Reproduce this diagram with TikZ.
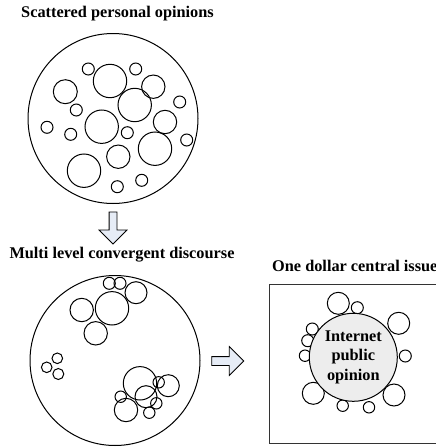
\documentclass[tikz,border=0pt]{standalone}
\usepackage{fontspec}
\setmainfont{Liberation Serif}
\usepackage{xcolor}
\usetikzlibrary{shapes.arrows,positioning}
\definecolor{arrowfill}{HTML}{E6ECF6}

\begin{document}
\begin{tikzpicture}[x=1pt,y=1pt]
\tikzstyle{title}=[font=\fontsize{16.3}{19.5}\selectfont\bfseries,inner sep=0pt]
\tikzstyle{bubble}=[draw,line width=1pt]
\tikzstyle{bigarrow}=[single arrow,draw,fill=arrowfill,line width=0.8pt,inner sep=0pt,
  single arrow head extend=10pt,single arrow head indent=0pt,minimum height=32pt]
\path[use as bounding box] (0,0) rectangle (436,-447);
\clip (0,0) rectangle (436,-447);

% scattered opinions
\node[title] (scatter) at (117.5,-14) {Scattered personal opinions};
\draw[bubble] (113,-118.5) circle (85);
\foreach \x/\y/\r in {88.3/69/6, 110/81/16.7, 135.7/69/6, 65.3/91.7/12, 153.3/86.7/11.7,
  134.7/105/16.7, 179.7/102/6, 76.3/110/6, 101.7/126.7/16.7, 165/122/11.7, 47/127.3/6,
  70.7/134.3/6, 127.3/132.7/6, 155/148.7/16.7, 186.7/140/6, 118.3/156.7/11.7,
  84/170.7/16.7, 141.7/180.3/6, 117.3/186.7/6}
  \draw[bubble] (\x,-\y) circle (\r);

\node[bigarrow,shape border rotate=270] (down) at (113,-226) {\rule{7pt}{0pt}};

% convergent discourse
\node[title] (multi) at (122,-255) {Multi level convergent discourse};
\draw[bubble] (115,-360.5) circle (85);
\foreach \x/\y/\r in {109.3/283.3/6, 120/283.3/6, 136/292.7/11, 112/308.3/16.7,
  81.7/310/11.7, 95.7/333.3/11.7, 57.3/358.3/5.3, 46.7/367.3/5.3, 58.3/374/5.5,
  140/383.3/16.7, 168.3/385.7/11, 158.7/382.3/5.7, 146/396.7/11, 120.7/396.7/5.7,
  126/410/11.7, 156.3/403.3/5.7, 149.3/412.7/5.7}
  \draw[bubble] (\x,-\y) circle (\r);

\node[bigarrow] (right) at (225.5,-361) {\rule{0pt}{8pt}};

% central issue
\node[title,anchor=west] (issue) at (272,-266) {One dollar central issue};
\node[draw=black!80,line width=1pt,anchor=north west,minimum width=200pt,minimum height=159pt] (frame) at (269.3,-284.3) {};
\foreach \x/\y/\r in {338.3/303.3/11, 357.3/307.7/6, 398.7/323.3/11, 312.3/329/6,
  307.7/340.7/6, 305/355.7/5.7, 405.3/356/6, 313.3/393.3/11, 394/395/11,
  342.7/405.7/5.7, 369/407.3/5.7}
  \draw[bubble] (\x,-\y) circle (\r);
\node[title,circle,draw,line width=1pt,fill=black!7,minimum size=88pt,align=center] (core) at (353.3,-357.3) {Internet\\public\\opinion};
\end{tikzpicture}
\end{document}
